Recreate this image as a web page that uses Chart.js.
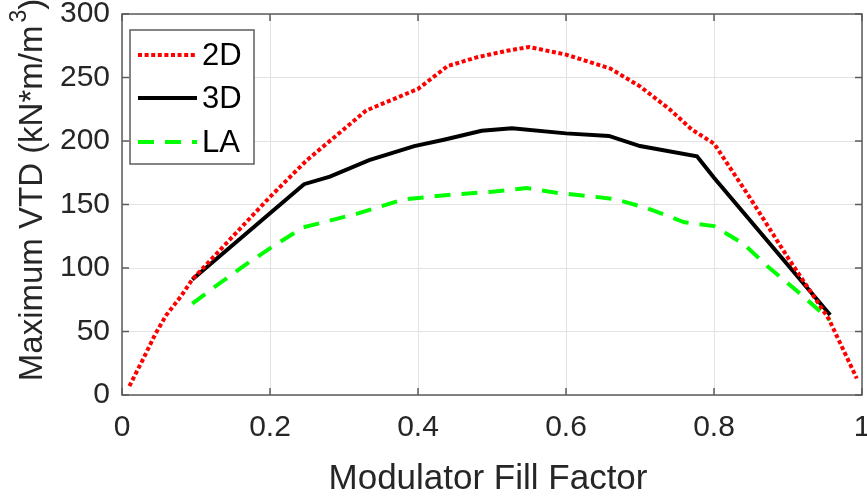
<!DOCTYPE html>
<html>
<head>
<meta charset="utf-8">
<script src="https://cdn.jsdelivr.net/npm/chart.js@4.4.1/dist/chart.umd.min.js"></script>
<style>
  html, body { margin: 0; padding: 0; background: #fff; }
  #wrap { width: 867px; height: 497px; }
</style>
</head>
<body>
<div id="wrap"><canvas id="c" width="867" height="497"></canvas></div>
<script>
// Fill factor (x) and maximum VTD (kN*m/m^3)
const x2D = [0.01, 0.03, 0.045, 0.06, 0.08, 0.095, 0.15, 0.2, 0.25, 0.33, 0.4, 0.44, 0.48, 0.52, 0.55, 0.6, 0.66, 0.7, 0.74, 0.77, 0.8, 0.85, 0.9, 0.955, 0.993];
const y2D = [7, 30, 48, 63, 78, 91, 125, 156, 185, 224, 241, 259, 266, 271, 274, 268, 257, 243, 225, 209, 198, 154, 108, 60, 13];

const x3D = [0.095, 0.246, 0.281, 0.334, 0.395, 0.435, 0.486, 0.527, 0.6, 0.658, 0.7, 0.777, 0.8, 0.957];
const y3D = [91, 166, 172, 185, 196, 201, 208, 210, 206, 204, 196, 188, 171, 63];

const xLA = [0.095, 0.132, 0.168, 0.204, 0.245, 0.319, 0.38, 0.45, 0.5, 0.547, 0.59, 0.64, 0.668, 0.71, 0.76, 0.8, 0.84, 0.873, 0.91, 0.957];
const yLA = [72, 88, 103, 117, 132, 143, 154, 158, 160, 163, 159, 156, 154, 147, 136, 133, 119, 101, 83, 59];

const xTicks = [0, 0.2, 0.4, 0.6, 0.8, 1];
const yTicks = [0, 50, 100, 150, 200, 250, 300];

const FONT = '"Liberation Sans", Arial, Helvetica, sans-serif';
const AXIS = '#262626';
const BOX = '#5c5c5c';

const pts = (xs, ys) => xs.map((x, i) => ({ x, y: ys[i] }));

// box, inward ticks, axis titles and the legend (MATLAB style)
const matlabDecor = {
  id: 'matlabDecor',
  afterDatasetsDraw(chart) {
    const { ctx, chartArea: a, scales: { x, y } } = chart;
    ctx.save();
    ctx.strokeStyle = BOX;
    ctx.lineWidth = 1.5;
    ctx.strokeRect(a.left, a.top, a.right - a.left, a.bottom - a.top);
    const tl = 7;
    ctx.beginPath();
    xTicks.forEach(v => {
      const px = x.getPixelForValue(v);
      ctx.moveTo(px, a.bottom); ctx.lineTo(px, a.bottom - tl);
      ctx.moveTo(px, a.top); ctx.lineTo(px, a.top + tl);
    });
    yTicks.forEach(v => {
      const py = y.getPixelForValue(v);
      ctx.moveTo(a.left, py); ctx.lineTo(a.left + tl, py);
      ctx.moveTo(a.right, py); ctx.lineTo(a.right - tl, py);
    });
    ctx.stroke();

    // x title
    ctx.fillStyle = AXIS;
    ctx.font = '35px ' + FONT;
    ctx.textAlign = 'center';
    ctx.textBaseline = 'alphabetic';
    ctx.fillText('Modulator Fill Factor', 488, 489);

    // y title with superscript
    const main = 'Maximum VTD (kN*m/m', sup = '3', close = ')';
    ctx.font = '33px ' + FONT;
    const wMain = ctx.measureText(main).width;
    const wClose = ctx.measureText(close).width;
    ctx.font = '23px ' + FONT;
    const wSup = ctx.measureText(sup).width + 3;
    const total = wMain + wSup + wClose;
    ctx.translate(42, 190);
    ctx.rotate(-Math.PI / 2);
    ctx.textAlign = 'left';
    let cx = -total / 2;
    ctx.font = '33px ' + FONT;
    ctx.fillText(main, cx, 0); cx += wMain + 3;
    ctx.font = '23px ' + FONT;
    ctx.fillText(sup, cx, -16); cx += wSup - 3;
    ctx.font = '33px ' + FONT;
    ctx.fillText(close, cx, 0);
    ctx.restore();

    // legend
    ctx.save();
    const lx = 130, ly = 30, lw = 124, lh = 134;
    ctx.fillStyle = '#fff';
    ctx.fillRect(lx, ly, lw, lh);
    ctx.strokeStyle = BOX;
    ctx.lineWidth = 1.5;
    ctx.strokeRect(lx, ly, lw, lh);
    const rows = [55, 98, 142];
    chart.data.datasets.forEach((ds, i) => {
      const ry = rows[i];
      ctx.beginPath();
      ctx.strokeStyle = ds.borderColor;
      ctx.lineWidth = ds.borderWidth;
      ctx.setLineDash(ds.borderDash || []);
      ctx.moveTo(138, ry); ctx.lineTo(197, ry);
      ctx.stroke();
      ctx.setLineDash([]);
      ctx.fillStyle = '#000';
      ctx.font = '31px ' + FONT;
      ctx.textAlign = 'left';
      ctx.textBaseline = 'middle';
      ctx.fillText(ds.label, 202, ry + 1);
    });
    ctx.restore();
  }
};

new Chart(document.getElementById('c'), {
  type: 'line',
  data: {
    datasets: [
      {
        label: '2D',
        data: pts(x2D, y2D),
        borderColor: '#ff0000',
        borderWidth: 4,
        borderDash: [4, 2.6],
        pointRadius: 0,
        tension: 0,
        fill: false,
      },
      {
        label: '3D',
        data: pts(x3D, y3D),
        borderColor: '#000000',
        borderWidth: 4,
        pointRadius: 0,
        tension: 0,
        fill: false,
      },
      {
        label: 'LA',
        data: pts(xLA, yLA),
        borderColor: '#00ff00',
        borderWidth: 4,
        borderDash: [16, 11],
        pointRadius: 0,
        tension: 0,
        fill: false,
      },
    ],
  },
  options: {
    responsive: false,
    animation: false,
    layout: { padding: { top: 14, right: 5, left: 0, bottom: 0 } },
    plugins: { legend: { display: false }, tooltip: { enabled: false } },
    scales: {
      x: {
        type: 'linear',
        min: 0,
        max: 1,
        afterBuildTicks: s => { s.ticks = xTicks.map(v => ({ value: v })); },
        afterFit: s => { s.height = 497 - 395; s.paddingLeft = 0; s.paddingRight = 0; },
        ticks: {
          color: AXIS,
          font: { family: FONT, size: 30 },
          padding: 15,
          maxRotation: 0,
          callback: v => String(v),
        },
        grid: { color: '#e3e3e3', lineWidth: 1, drawTicks: false },
        border: { display: false },
      },
      y: {
        min: 0,
        max: 300,
        afterBuildTicks: s => { s.ticks = yTicks.map(v => ({ value: v })); },
        afterFit: s => { s.width = 122; s.paddingTop = 0; s.paddingBottom = 0; },
        ticks: {
          color: AXIS,
          font: { family: FONT, size: 30 },
          padding: 12,
        },
        grid: { color: '#e3e3e3', lineWidth: 1, drawTicks: false },
        border: { display: false },
      },
    },
  },
  plugins: [matlabDecor],
});
</script>
</body>
</html>
